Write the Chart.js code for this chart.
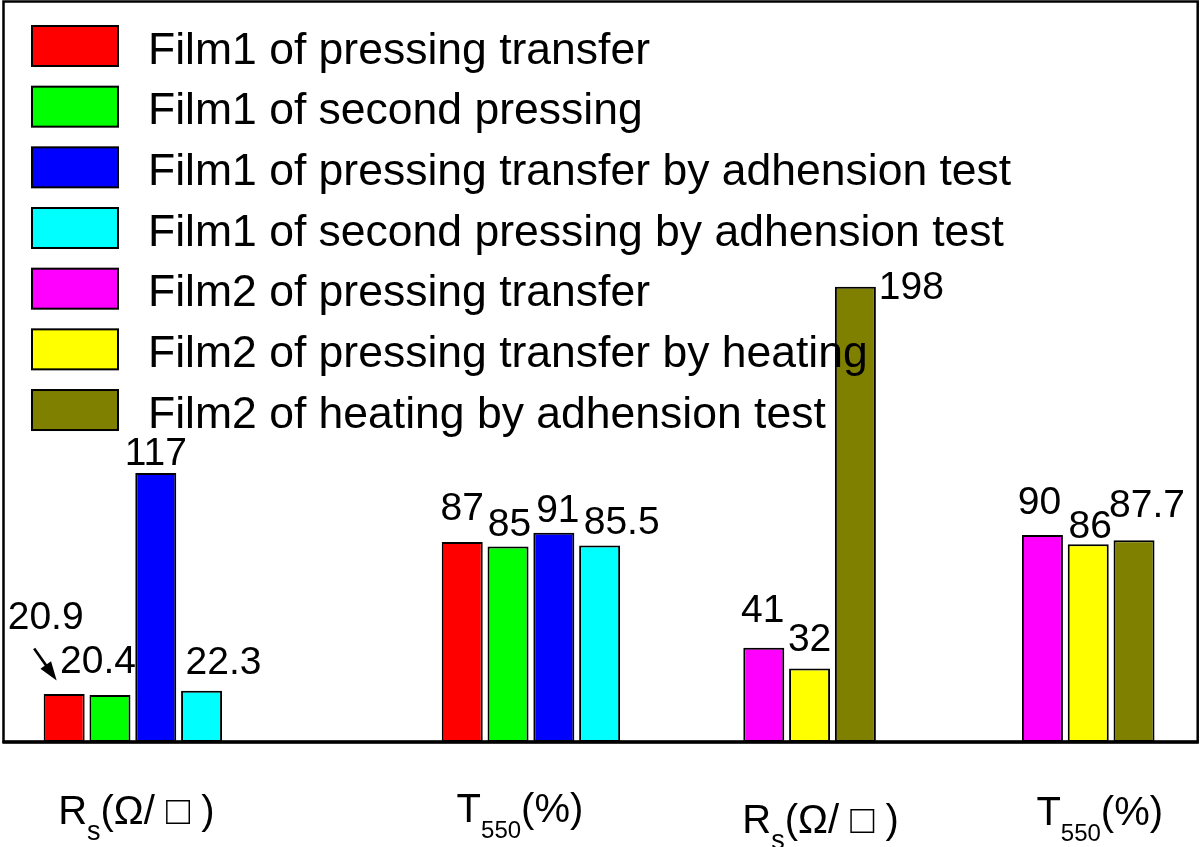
<!DOCTYPE html>
<html><head><meta charset="utf-8">
<script src="https://cdn.jsdelivr.net/npm/chart.js@4.4.1/dist/chart.umd.min.js"></script>
<style>html,body{margin:0;padding:0;background:#fff;} canvas{display:block;}</style>
</head><body>
<canvas id="c" width="1200" height="847"></canvas>
<script>
// ---------- data ----------
const seriesNames = [
  'Film1 of pressing transfer',
  'Film1 of second pressing',
  'Film1 of pressing transfer by adhension test',
  'Film1 of second pressing by adhension test',
  'Film2 of pressing transfer',
  'Film2 of pressing transfer by heating',
  'Film2 of heating by adhension test'
];
const seriesColors = ['#ff0000', '#00ff00', '#0000ff', '#00ffff', '#ff00ff', '#ffff00', '#808000'];

// category (tick) labels: main text, subscript, tail
const tickMain = ['R', 'T', 'R', 'T'];
const tickSub = ['s', '550', 's', '550'];
const tickTail = ['(\u03A9/ \u25A1 )', '(%)', '(\u03A9/ \u25A1 )', '(%)'];

// values: [Rs, T550] for each film
const film1PressingTransfer = [20.9, 87];
const film1SecondPressing = [20.4, 85];
const film1PressingAdhesion = [117, 91];
const film1SecondAdhesion = [22.3, 85.5];
const film2PressingTransfer = [41, 90];
const film2PressingHeating = [32, 86];
const film2HeatingAdhesion = [198, 87.7];

const film1Groups = [0, 1];
const film2Groups = [2, 3];

const seriesValues = [film1PressingTransfer, film1SecondPressing, film1PressingAdhesion, film1SecondAdhesion,
  film2PressingTransfer, film2PressingHeating, film2HeatingAdhesion];
const seriesGroups = [film1Groups, film1Groups, film1Groups, film1Groups, film2Groups, film2Groups, film2Groups];

// ---------- layout (not data) ----------
const slotCount = 60;
const groupSlots = [6, 26, 40, 54];
const pad = { left: 3.5, right: 2.3, top: 1.5, bottom: 105 };
const slotWidth = (1200 - pad.left - pad.right) / slotCount;
const barPitch = 45.8, barOuter = 41;
const groupSize = groupSlots.map((_, g) => seriesGroups.filter(gs => gs.includes(g)).length);

// value label offsets [dx, dy] relative to bar top centre
const labelOffsets = [
  [[-18.5, -65], [0, -22]],
  [[-12, -22], [1.5, -11]],
  [[0, -8], [4, -11]],
  [[22, -17], [22, -11]],
  [[-1, -26], [-3, -21]],
  [[0, -17], [2, -6]],
  [[56, 12.6], [13, -23]]
];
// axis label offsets [dx, dy] relative to group centre / plot bottom
const tickOffsets = [[3.5, 82], [-11, 80], [11, 91], [11.5, 83]];

const FONT = '"Liberation Sans", Arial, Helvetica, sans-serif';

const slotLabels = Array.from({ length: slotCount }, (_, i) => {
  const g = groupSlots.indexOf(i);
  return g >= 0 ? tickMain[g] + tickSub[g] + tickTail[g] : '';
});

const datasets = seriesNames.map((name, s) => {
  const data = new Array(slotCount).fill(null);
  seriesGroups[s].forEach((g, j) => { data[groupSlots[g]] = seriesValues[s][j]; });
  const count = groupSize[seriesGroups[s][0]];
  return {
    label: name,
    data,
    backgroundColor: seriesColors[s],
    borderColor: '#000',
    borderWidth: 2,
    borderSkipped: false,
    skipNull: true,
    categoryPercentage: barPitch * count / slotWidth,
    barPercentage: barOuter / barPitch
  };
});

const drawPlugin = {
  id: 'customDraw',
  afterDatasetsDraw(chart) {
    const ctx = chart.ctx;
    const a = chart.chartArea;
    ctx.save();
    // frame
    ctx.strokeStyle = '#000';
    ctx.lineWidth = 2.5;
    ctx.strokeRect(a.left, a.top, a.right - a.left, a.bottom - a.top);
    ctx.lineWidth = 3.5;
    ctx.beginPath();
    ctx.moveTo(a.left - 1, a.bottom);
    ctx.lineTo(a.right + 1, a.bottom);
    ctx.stroke();

    // value labels
    ctx.fillStyle = '#000';
    ctx.font = '39px ' + FONT;
    ctx.textAlign = 'center';
    ctx.textBaseline = 'alphabetic';
    chart.data.datasets.forEach((ds, s) => {
      const meta = chart.getDatasetMeta(s);
      seriesGroups[s].forEach((g, j) => {
        const el = meta.data[groupSlots[g]];
        const off = labelOffsets[s][j];
        ctx.fillText(String(seriesValues[s][j]), el.x + off[0], el.y + off[1]);
      });
    });

    // arrow pointing at the first bar
    const e0 = chart.getDatasetMeta(0).data[groupSlots[0]];
    const tx = e0.x - 30, ty = e0.y - 45.5, hx = e0.x - 7.5, hy = e0.y - 13.5;
    const dx = hx - tx, dy = hy - ty, len = Math.hypot(dx, dy);
    const ux = dx / len, uy = dy / len;
    const headL = 19, headW = 6.5;
    ctx.lineWidth = 2.6;
    ctx.beginPath();
    ctx.moveTo(tx, ty);
    ctx.lineTo(hx - ux * headL * 0.8, hy - uy * headL * 0.8);
    ctx.stroke();
    ctx.beginPath();
    ctx.moveTo(hx, hy);
    ctx.lineTo(hx - ux * headL - uy * headW, hy - uy * headL + ux * headW);
    ctx.lineTo(hx - ux * headL + uy * headW, hy - uy * headL - ux * headW);
    ctx.closePath();
    ctx.fill();

    // x category labels with subscripts
    const xs = chart.scales.x;
    ctx.textAlign = 'left';
    groupSlots.forEach((slot, g) => {
      const cx = xs.getPixelForValue(slot) + tickOffsets[g][0];
      const by = a.bottom + tickOffsets[g][1];
      const subSize = tickSub[g] === 's' ? 27 : 24;
      ctx.font = '40px ' + FONT;
      const wMain = ctx.measureText(tickMain[g]).width;
      const wTail = ctx.measureText(tickTail[g]).width;
      ctx.font = subSize + 'px ' + FONT;
      const wSub = ctx.measureText(tickSub[g]).width;
      let x = cx - (wMain + wSub + wTail) / 2;
      ctx.font = '40px ' + FONT;
      ctx.fillText(tickMain[g], x, by);
      x += wMain;
      ctx.font = subSize + 'px ' + FONT;
      ctx.fillText(tickSub[g], x, by + 16);
      x += wSub;
      ctx.font = '40px ' + FONT;
      ctx.fillText(tickTail[g], x, by);
    });

    // legend (inside plot, top-left)
    ctx.font = '44.5px ' + FONT;
    chart.data.datasets.forEach((ds, i) => {
      const top = a.top + 24.5 + i * 60.67;
      ctx.fillStyle = ds.backgroundColor;
      ctx.fillRect(32, top, 86, 40);
      ctx.lineWidth = 2;
      ctx.strokeStyle = '#000';
      ctx.strokeRect(32, top, 86, 40);
      ctx.fillStyle = '#000';
      ctx.fillText(ds.label, 148, top + 37.5);
    });
    ctx.restore();
  }
};

new Chart(document.getElementById('c'), {
  type: 'bar',
  data: { labels: slotLabels, datasets },
  options: {
    responsive: false,
    animation: false,
    devicePixelRatio: 1,
    events: [],
    layout: { padding: pad },
    scales: {
      x: { type: 'category', display: false, offset: true },
      y: { display: false, min: 0, max: 322 }
    },
    plugins: { legend: { display: false }, tooltip: { enabled: false } }
  },
  plugins: [drawPlugin]
});
</script>
</body></html>
